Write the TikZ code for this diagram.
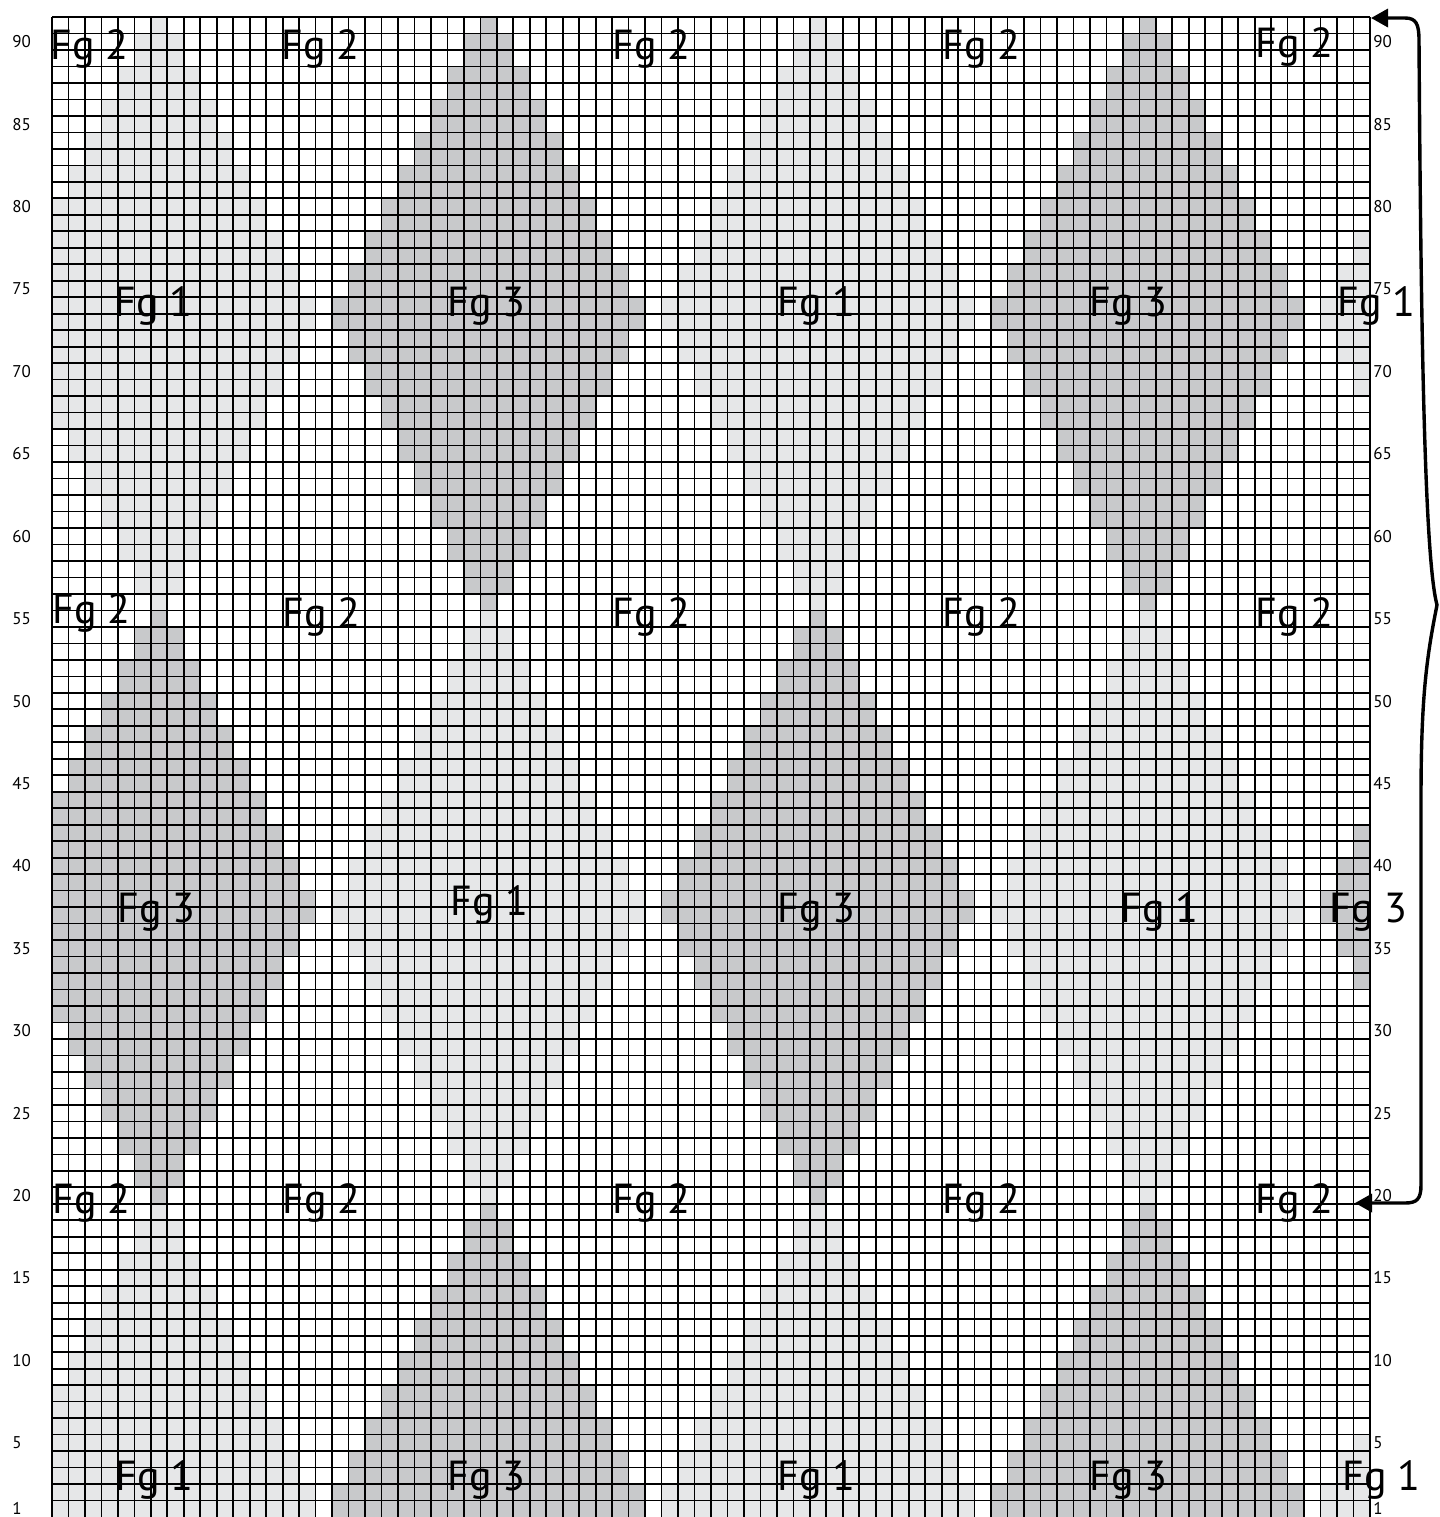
\documentclass[tikz,border=0pt]{standalone}
\usepackage{fontspec}
\setmainfont{PT Sans}
\usetikzlibrary{arrows.meta}
\definecolor{fgone}{HTML}{E6E7E8}
\definecolor{fgthree}{HTML}{C8C9CB}
\tikzset{
  gridline/.style={line width=0.85pt, black},
  fglabel/.style={anchor=base west, inner sep=0pt, font=\fontsize{21pt}{25pt}\selectfont},
  rownum/.style={anchor=west, inner sep=0pt, font=\fontsize{8.5pt}{10pt}\selectfont},
  bracearrow/.style={line width=1.7pt, black, {Triangle[length=8.5pt,width=9pt]}-{Triangle[length=8.5pt,width=9pt]}}
}
\begin{document}
\begin{tikzpicture}[x=0.5pt,y=-0.5pt]
\useasboundingbox (0,0) rectangle (1440,1517);
% diamond fills
\begin{scope}
\clip (52,17) rectangle (1370,1517);
\foreach \cen/\ca/\cb in {73.5/fgone/fgthree, 37.5/fgthree/fgone, 1.5/fgone/fgthree} {
  \foreach \k in {0,...,17} {
    \pgfmathtruncatemacro{\hw}{9 - ceil(\k/2)}
    \foreach \s in {-1,1} {
      \pgfmathsetmacro{\rr}{\cen + \s*(\k+0.5)}
      \pgfmathsetmacro{\ytop}{17 + (91-\rr)*16.4835}
      \foreach \cc/\col in {6/\ca, 26/\cb, 46/\ca, 66/\cb, 86/\ca} {
        \fill[fill=\col] ({52+(\cc-\hw)*16.475},\ytop) rectangle ({52+(\cc+\hw+1)*16.475},{\ytop+16.4835});
      }
    }
  }
}
\fill[white] ({52+79*16.475},{17+85*16.4835}) rectangle (1370,{17+86*16.4835});
\end{scope}
% grid
\foreach \i in {0,...,80} \draw[gridline] ({52+\i*16.475},17) -- ({52+\i*16.475},1520);
\foreach \j in {0,...,90} \draw[gridline] (52,{17+\j*16.4835}) -- (1370,{17+\j*16.4835});
% row numbers
\foreach \r in {1,5,10,15,20,25,30,35,40,45,50,55,60,65,70,75,80,85,90} {
  \pgfmathsetmacro{\yc}{17+(91-\r)*16.4835+8.2418}
  \node[rownum] (left\r) at (12,\yc) {\r};
  \node[rownum] (right\r) at (1373,\yc) {\r};
}
% Fg labels
\foreach \lx/\ly/\lt [count=\i] in {
  53/59/Fg 2, 284/59/Fg 2, 615/59/Fg 2, 945/59/Fg 2, 1258/57/Fg 2,
  117/316/Fg 1, 450/316/Fg 3, 780/316/Fg 1, 1092/316/Fg 3, 1340/316/Fg 1,
  55/623/Fg 2, 285/627/Fg 2, 615/627/Fg 2, 945/627/Fg 2, 1258/627/Fg 2,
  120/922/Fg 3, 453/915/Fg 1, 780/922/Fg 3, 1123/922/Fg 1, 1332/922/Fg 3,
  55/1213/Fg 2, 285/1213/Fg 2, 615/1213/Fg 2, 945/1213/Fg 2, 1258/1213/Fg 2,
  118/1490/Fg 1, 450/1490/Fg 3, 780/1490/Fg 1, 1092/1490/Fg 3, 1345/1490/Fg 1} {
  \node[fglabel] (fg\i) at ({\lx-3},\ly) {\lt};
}
% brace with arrows
\coordinate (toptip) at (1371,18);
\coordinate (bottip) at (1355,1203);
\coordinate (bracepoint) at (1437,605);
\draw[bracearrow] (toptip) -- (1405,18) .. controls (1416,18) and (1419,24) .. (1419,40)
  .. controls (1421,350) and (1425,560) .. (bracepoint)
  .. controls (1426,660) and (1421,700) .. (1421,800)
  -- (1421,1185) .. controls (1421,1199) and (1417,1203) .. (1405,1203) -- (bottip);
\end{tikzpicture}
\end{document}
